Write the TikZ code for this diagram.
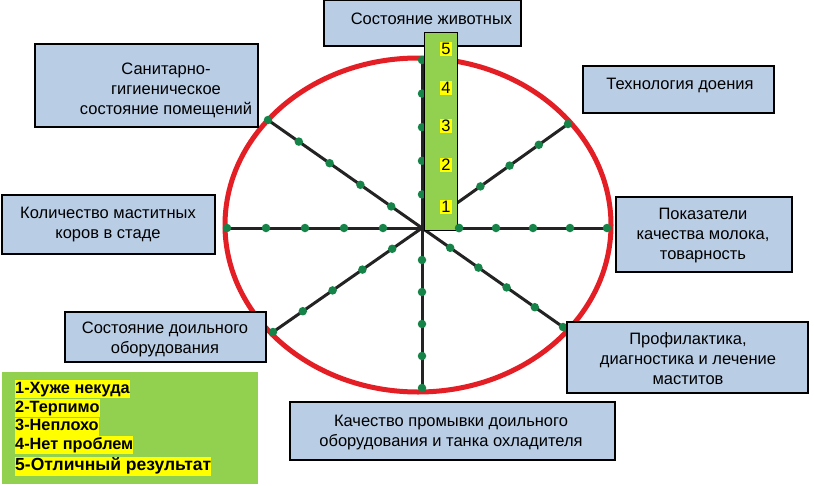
\documentclass[tikz,border=0pt]{standalone}
\usepackage{fontspec}
\setmainfont{Liberation Sans}
\definecolor{boxblue}{RGB}{185,205,229}
\definecolor{lgreen}{RGB}{146,208,80}
\definecolor{dotgreen}{RGB}{22,132,72}
\definecolor{ringred}{RGB}{227,30,36}
\definecolor{spokegray}{RGB}{35,35,35}
\definecolor{hl}{RGB}{255,255,0}
\begin{document}
\begin{tikzpicture}[x=1pt,y=-1pt,
  box/.style={draw=black, line width=1.3pt, fill=boxblue, inner sep=0pt},
  lbl/.style={align=center, font=\fontsize{16.5}{20}\selectfont, inner sep=0pt},
  dotnode/.style={circle, fill=dotgreen, inner sep=0pt, minimum size=8.5pt},
  spoke/.style={line width=3pt, draw=spokegray},
  num/.style={fill=hl, inner sep=1pt, font=\fontsize{16.5}{18}\selectfont},
  legline/.style={fill=hl, inner sep=0pt, anchor=west, text height=13pt, text depth=5pt, font=\bfseries\fontsize{16.3}{19}\selectfont}]
\useasboundingbox (0,0) rectangle (814,485);
\fill[white] (0,0) rectangle (814,485);
% ring
\draw[ringred, line width=5pt] (418,225) ellipse [x radius=193pt, y radius=167pt];
% spokes
\coordinate (c) at (422,228);
\foreach \n/\x/\y in {u/422/60, ur/568/124, r/607/228, dr/563/327, d/422/388, dl/273/332, l/227/228, ul/268/120}{
  \coordinate (e\n) at (\x,\y);
  \draw[spoke] (c) -- (e\n)
    foreach \p/\k in {0.2/1,0.4/2,0.6/3,0.8/4,1/5} {node[dotnode,pos=\p] (dot-\n-\k) {}};
}
% boxes
\node[box, minimum width=197pt, minimum height=46pt] (b1) at (422.5,23) {};
\node[lbl] (t1) at (431.5,19) {Состояние животных};
% scale bar
\node[draw=black, line width=0.8pt, fill=lgreen, inner sep=0pt, minimum width=32.5pt, minimum height=198pt] (bar) at (440.75,131) {};
\node[dotnode] (dot-r-1b) at (dot-r-1) {};
\foreach \v/\yy in {5/49,4/88,3/126,2/165,1/207}{
  \node[num] (n\v) at (446,\yy) {\v};
}
\node[box, minimum width=223pt, minimum height=83pt] (b2) at (146.5,85.5) {};
\node[lbl] (t2) at (166,90.5) {Санитарно-\\гигиеническое\\состояние помещений};
\node[box, minimum width=191pt, minimum height=47pt] (b3) at (678.5,89.5) {};
\node[lbl] (t3) at (680,85) {Технология доения};
\node[box, minimum width=213pt, minimum height=59pt] (b4) at (108.5,224.5) {};
\node[lbl] (t4) at (108,225) {Количество маститных\\коров в стаде};
\node[box, minimum width=176pt, minimum height=75pt] (b5) at (704,234.5) {};
\node[lbl] (t5) at (703,236) {Показатели\\качества молока,\\товарность};
\node[box, minimum width=201pt, minimum height=50pt] (b6) at (165.5,337) {};
\node[lbl] (t6) at (165,339) {Состояние доильного\\оборудования};
\node[box, minimum width=241pt, minimum height=71pt] (b7) at (687.5,357.5) {};
\node[lbl] (t7) at (688,359) {Профилактика,\\диагностика и лечение\\маститов};
\node[box, minimum width=325pt, minimum height=58pt] (b8) at (452.5,431) {};
\node[lbl] (t8) at (451,433) {Качество промывки доильного\\оборудования и танка охладителя};
% legend
\node[fill=lgreen, inner sep=0pt, minimum width=256pt, minimum height=112pt] (leg) at (130,428) {};
\node[legline] (l1) at (15,389) {1-Хуже некуда};
\node[legline] (l2) at (15,408) {2-Терпимо};
\node[legline] (l3) at (15,426.5) {3-Неплохо};
\node[legline] (l4) at (15,445) {4-Нет проблем};
\node[legline, font=\bfseries\fontsize{17.5}{20}\selectfont, text height=14pt, text depth=5pt] (l5) at (15,466) {5-Отличный результат};
\end{tikzpicture}
\end{document}
